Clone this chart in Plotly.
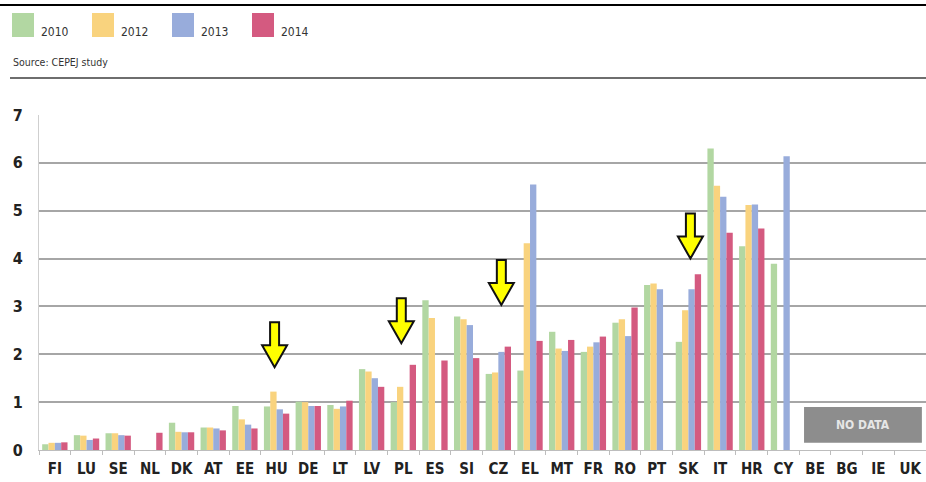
import plotly.graph_objects as go

countries = ["FI", "LU", "SE", "NL", "DK", "AT", "EE", "HU", "DE", "LT", "LV", "PL", "ES", "SI",
             "CZ", "EL", "MT", "FR", "RO", "PT", "SK", "IT", "HR", "CY", "BE", "BG", "IE", "UK"]

v2010 = [0.12, 0.31, 0.35, None, 0.57, 0.47, 0.92, 0.91, 1.01, 0.94, 1.69, 1.00, 3.13, 2.79,
         1.59, 1.66, 2.47, 2.05, 2.66, 3.45, 2.26, 6.30, 4.26, 3.89, None, None, None, None]
v2012 = [0.15, 0.30, 0.35, None, 0.38, 0.47, 0.64, 1.22, 1.00, 0.86, 1.64, 1.32, 2.76, 2.73,
         1.62, 4.32, 2.12, 2.16, 2.73, 3.48, 2.92, 5.52, 5.12, None, None, None, None, None]
v2013 = [0.15, 0.21, 0.31, None, 0.37, 0.45, 0.53, 0.85, 0.92, 0.91, 1.50, None, None, 2.61,
         2.05, 5.55, 2.07, 2.25, 2.38, 3.36, 3.36, 5.29, 5.13, 6.14, None, None, None, None]
v2014 = [0.16, 0.24, 0.30, 0.36, 0.37, 0.41, 0.45, 0.76, 0.92, 1.03, 1.32, 1.78, 1.87, 1.92,
         2.16, 2.28, 2.30, 2.37, 2.98, None, 3.67, 4.54, 4.63, None, None, None, None, None]

series_names = ["2010", "2012", "2013", "2014"]
series_colors = ["#b2d7a2", "#f9d37e", "#98acdb", "#d45a80"]
series_values = [v2010, v2012, v2013, v2014]

arrow_countries = ["HU", "PL", "CZ", "SK"]
arrow_tips = [1.73, 2.23, 3.03, 4.0]
arrow_dx = [-2, -2, 3, 2]

y_ticks = [0, 1, 2, 3, 4, 5, 6, 7]

FONT = "Liberation Sans Narrow, DejaVu Sans Condensed, DejaVu Sans, Arial"

fig = go.Figure()
for name, color, vals in zip(series_names, series_colors, series_values):
    fig.add_trace(go.Bar(x=countries, y=vals, name=name, marker=dict(color=color, line=dict(width=0)),
                         showlegend=False))

# geometry (pixels)
W, H = 926, 482
L, R, T, B = 39, 0, 115, 32
pw, ph = W - L - R, H - T - B


def px(xp):
    return (xp - L) / pw


def py(yp):
    return (H - B - yp) / ph


shapes = []
annotations = []

# top black rule and grey separator
shapes.append(dict(type="line", xref="paper", yref="paper", x0=px(0), x1=px(926), y0=py(5), y1=py(5),
                   line=dict(color="#000000", width=2)))
shapes.append(dict(type="line", xref="paper", yref="paper", x0=px(10), x1=px(926), y0=py(78), y1=py(78),
                   line=dict(color="#6e6e6e", width=2)))

# legend swatches
sw_x = [12, 92, 172, 252]
for x0, name, color in zip(sw_x, series_names, series_colors):
    shapes.append(dict(type="rect", xref="paper", yref="paper", x0=px(x0), x1=px(x0 + 22),
                       y0=py(37), y1=py(13), fillcolor=color, line=dict(width=0)))
    annotations.append(dict(xref="paper", yref="paper", x=px(x0 + 27), y=py(32), text=name,
                            showarrow=False, xanchor="left", yanchor="middle",
                            font=dict(family=FONT, size=12, color="#333333")))

annotations.append(dict(xref="paper", yref="paper", x=px(11), y=py(62), text="Source: CEPEJ study",
                        showarrow=False, xanchor="left", yanchor="middle",
                        font=dict(family=FONT, size=10.5, color="#333333")))

# yellow arrows
arrow_path = "M -4.5,45 L 4.5,45 L 4.5,22 L 12.5,22 L 0,0 L -12.5,22 L -4.5,22 Z"
for c, tip, dx in zip(arrow_countries, arrow_tips, arrow_dx):
    idx = countries.index(c)
    shapes.append(dict(type="path", xref="x", yref="y", xsizemode="pixel", ysizemode="pixel",
                       xanchor=idx + dx / (pw / len(countries)), yanchor=tip, path=arrow_path,
                       fillcolor="#ffff00", line=dict(color="#111111", width=2)))

# NO DATA box
shapes.append(dict(type="rect", xref="x", yref="y", x0=23.65, x1=27.37, y0=0.15, y1=0.9,
                   fillcolor="#8d8d8d", line=dict(width=0)))
annotations.append(dict(xref="x", yref="y", x=(23.65 + 27.37) / 2, y=0.53, text="<b>NO DATA</b>",
                        showarrow=False, font=dict(family=FONT, size=12, color="#e6e6e6")))

fig.update_layout(
    width=W, height=H,
    margin=dict(l=L, r=R, t=T, b=B, autoexpand=False),
    paper_bgcolor="white", plot_bgcolor="white",
    barmode="group", bargap=0.2, bargroupgap=0,
    shapes=shapes, annotations=annotations,
    showlegend=False,
)
fig.update_xaxes(type="category", range=[-0.5, len(countries) - 0.5], showgrid=False,
                 showline=True, linecolor="#bdbdbd", linewidth=1, tickangle=0,
                 ticks="outside", tickson="boundaries", ticklen=4, tickcolor="#bdbdbd",
                 ticklabelstandoff=5,
                 tickfont=dict(family=FONT, size=15, color="#222222", weight="bold"))
fig.update_yaxes(range=[0, 7], tickvals=y_ticks, showgrid=True, gridcolor="#a6a6a6", gridwidth=1.5,
                 zeroline=False, showline=True, linecolor="#cfcfcf", linewidth=1,
                 ticklabelstandoff=12,
                 tickfont=dict(family=FONT, size=16, color="#222222", weight="bold"))

fig.write_html("out.html", config={"displayModeBar": False},
               post_script="document.body.style.margin='0';document.body.style.overflow='hidden';")
